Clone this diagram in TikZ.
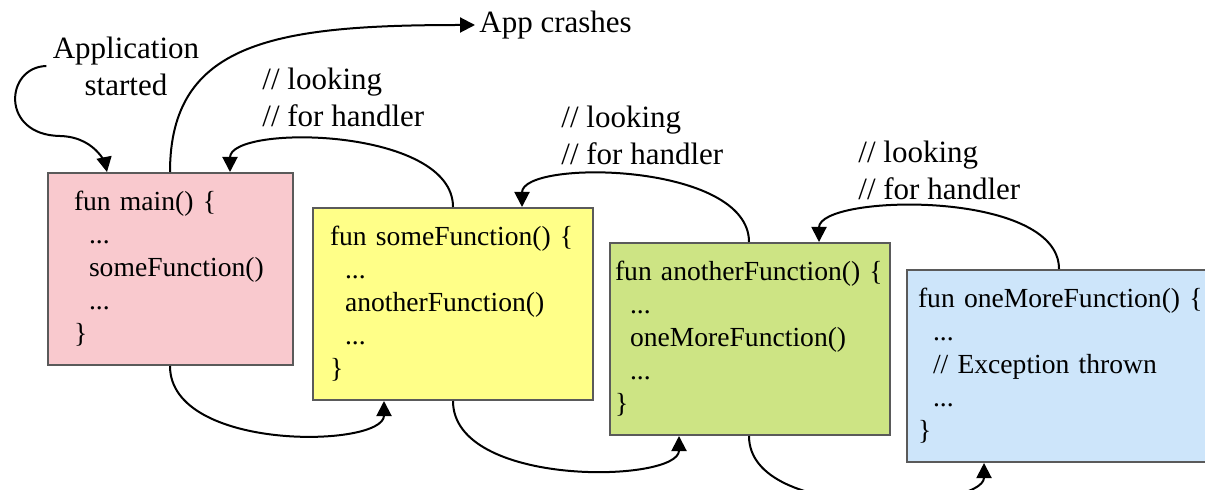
\documentclass[tikz,border=0pt]{standalone}
\usepackage{fontspec}
\setmainfont{Liberation Serif}
\usetikzlibrary{arrows.meta}
\definecolor{boxpink}{RGB}{249,201,206}
\definecolor{boxyellow}{RGB}{255,255,136}
\definecolor{boxgreen}{RGB}{205,228,132}
\definecolor{boxblue}{RGB}{205,229,250}
\definecolor{boxframe}{RGB}{90,90,90}
\newcommand{\ind}{\hspace*{7.5bp}}

\begin{document}
\begin{tikzpicture}[x=0.5bp,y=-0.5bp,
    code/.style={draw=boxframe,line width=1bp,anchor=north west,align=left,
      minimum height=96bp,font=\fontsize{13.8bp}{16.5bp}\selectfont},
    note/.style={font=\fontsize{15.5bp}{18.5bp}\selectfont,inner sep=0pt},
    flow/.style={-{Triangle[width=7.5bp,length=7.5bp]},line width=1bp}]
  \useasboundingbox (0,0) rectangle (1205,490);
  \clip (0,0) rectangle (1205,490);

  % the call stack
  \node[code,fill=boxpink,inner xsep=13bp,text width=96.5bp] (main) at (47,172)
    {fun~main()~\{\\ \ind...\\ \ind someFunction()\\ \ind...\\ \}};
  \node[code,fill=boxyellow,inner xsep=8.5bp,text width=123bp] (some) at (312,207)
    {fun~someFunction()~\{\\ \ind...\\ \ind anotherFunction()\\ \ind...\\ \}};
  \node[code,fill=boxgreen,inner xsep=2.5bp,text width=135bp] (another) at (609,242)
    {fun~anotherFunction()~\{\\ \ind...\\ \ind oneMoreFunction()\\ \ind...\\ \}};
  \node[code,fill=boxblue,inner xsep=5.5bp,text width=144bp] (onemore) at (906,269)
    {fun~oneMoreFunction()~\{\\ \ind...\\ \ind //~Exception~thrown\\ \ind...\\ \}};

  % labels
  \node[note,align=center,inner xsep=3bp] (app) at (126,66) {Application\\started};
  \node[note,anchor=west,inner xsep=2bp] (crash) at (475,25) {App crashes};
  \node[note,anchor=west,align=left] (look1) at (262,97) {// looking\\// for handler};
  \node[note,anchor=west,align=left] (look2) at (561,135) {// looking\\// for handler};
  \node[note,anchor=west,align=left] (look3) at (858,170) {// looking\\// for handler};

  % start and crash
  \draw[flow] (app.west) .. controls (5,67) and (0,135) .. (60,136)
    .. controls (100,137) and ([xshift=30bp]main.north west) .. ([xshift=30bp]main.north west);
  \draw[flow] ([xshift=61.5bp]main.north west) .. controls +(0,-130) and +(-200,0) .. (crash.west);

  % looking for handler, going up
  \draw[flow] ([xshift=70.5bp]some.north west) .. controls +(0,-80) and +(0,-48) .. ([xshift=91.5bp]main.north west);
  \draw[flow] ([xshift=70bp]another.north west) .. controls +(0,-80) and +(0,-48) .. ([xshift=105bp]some.north west);
  \draw[flow] ([xshift=76.5bp]onemore.north west) .. controls +(0,-80) and +(0,-48) .. ([xshift=105bp]another.north west);

  % calls, going down
  \draw[flow] ([xshift=61.5bp]main.south west) .. controls +(0,86) and +(0,47) .. ([xshift=36bp]some.south west);
  \draw[flow] ([xshift=70.5bp]some.south west) .. controls +(0,87) and +(0,47) .. ([xshift=35bp]another.south west);
  \draw[flow] ([xshift=70bp]another.south west) .. controls +(0,87) and +(0,47) .. ([xshift=39bp]onemore.south west);
\end{tikzpicture}
\end{document}
